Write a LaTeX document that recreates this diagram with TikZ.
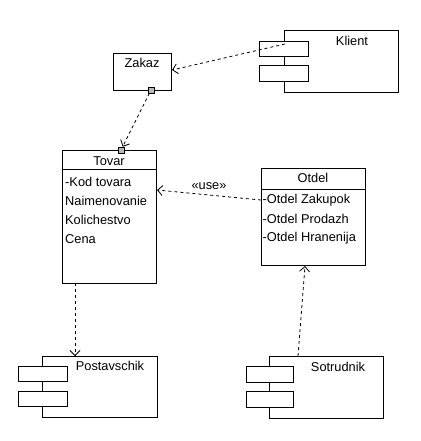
\documentclass[tikz,border=0pt]{standalone}
\usepackage{fontspec}
\setmainfont{Liberation Sans}
\usetikzlibrary{positioning,calc,arrows.meta}
\tikzset{box/.style={draw,line width=0.8pt,inner sep=0,anchor=north west}}
\tikzset{port/.style={draw,line width=0.6pt,fill=gray!55,inner sep=0,minimum size=6}}
\tikzset{lbl/.style={inner sep=0,font=\fontsize{12.8}{15}\selectfont}}
\tikzset{attr/.style={lbl,anchor=west}}
\tikzset{dep/.style={line width=0.8pt,dash pattern=on 3pt off 3pt,-{Straight Barb[length=5pt,width=10pt]}}}

\begin{document}
\begin{tikzpicture}[x=1pt,y=-1pt]
  \useasboundingbox (0,0) rectangle (420,441);
  % Klient
  \node[box,minimum width=114,minimum height=62] (klient) at (284,30) {};
  \node[box,fill=white,minimum width=49,minimum height=15] (klientA) at (259,41) {};
  \node[box,fill=white,minimum width=49,minimum height=16] (klientB) at (259,65) {};
  \node[lbl] (klientT) at (352,41) {Klient};
  % Zakaz
  \node[box,minimum width=58,minimum height=37] (zakaz) at (113,53) {};
  \node[lbl] (zakazT) at (142,63) {Zakaz};
  \node[port] (zport) at (151,90) {};
  % Tovar
  \node[box,minimum width=94,minimum height=133] (tovar) at (62,150) {};
  \draw[line width=0.8pt] (62,169) -- (156,169);
  \node[lbl] (tovarT) at (109,161) {Tovar};
  \node[attr] (t1) at (65,182) {-Kod tovara};
  \node[attr] (t2) at (65,201) {Naimenovanie};
  \node[attr] (t3) at (65,220) {Kolichestvo};
  \node[attr] (t4) at (65,239) {Cena};
  \node[port] (tport) at (121,150) {};
  % Otdel
  \node[box,minimum width=104,minimum height=97] (otdel) at (261,168) {};
  \draw[line width=0.8pt] (261,189) -- (365,189);
  \node[lbl] (otdelT) at (313,178) {Otdel};
  \node[attr] (o1) at (262.5,200) {-Otdel Zakupok};
  \node[attr] (o2) at (262.5,219) {-Otdel Prodazh};
  \node[attr] (o3) at (262.5,238) {-Otdel Hranenija};
  % Postavschik
  \node[box,minimum width=115,minimum height=61] (postav) at (42,356) {};
  \node[box,fill=white,minimum width=49,minimum height=15] (postavA) at (18,366) {};
  \node[box,fill=white,minimum width=49,minimum height=15] (postavB) at (18,391) {};
  \node[lbl] (postavT) at (110,366) {Postavschik};
  % Sotrudnik
  \node[box,minimum width=114,minimum height=62] (sotr) at (269,356) {};
  \node[box,fill=white,minimum width=47,minimum height=16] (sotrA) at (246,366) {};
  \node[box,fill=white,minimum width=47,minimum height=16] (sotrB) at (246,391) {};
  \node[lbl] (sotrT) at (338,367) {Sotrudnik};
  % ends of the connectors
  \coordinate (kout) at (285,44);
  \coordinate (zin) at (172,70);
  \coordinate (oout) at (261,200);
  \coordinate (tin) at (157,190);
  \coordinate (tout) at (75,283);
  \coordinate (pin) at (75,356);
  \coordinate (sout) at (298,356);
  \coordinate (oin) at (305,266);
  % connectors
  \draw[dep] (kout) -- (zin);
  \draw[dep] (zport) -- (tport);
  \draw[dep] (oout) -- (tin) node[lbl,pos=0.5,above=5pt] (use) {«use»};
  \draw[dep] (tout) -- (pin);
  \draw[dep] (sout) -- (oin);
\end{tikzpicture}
\end{document}
